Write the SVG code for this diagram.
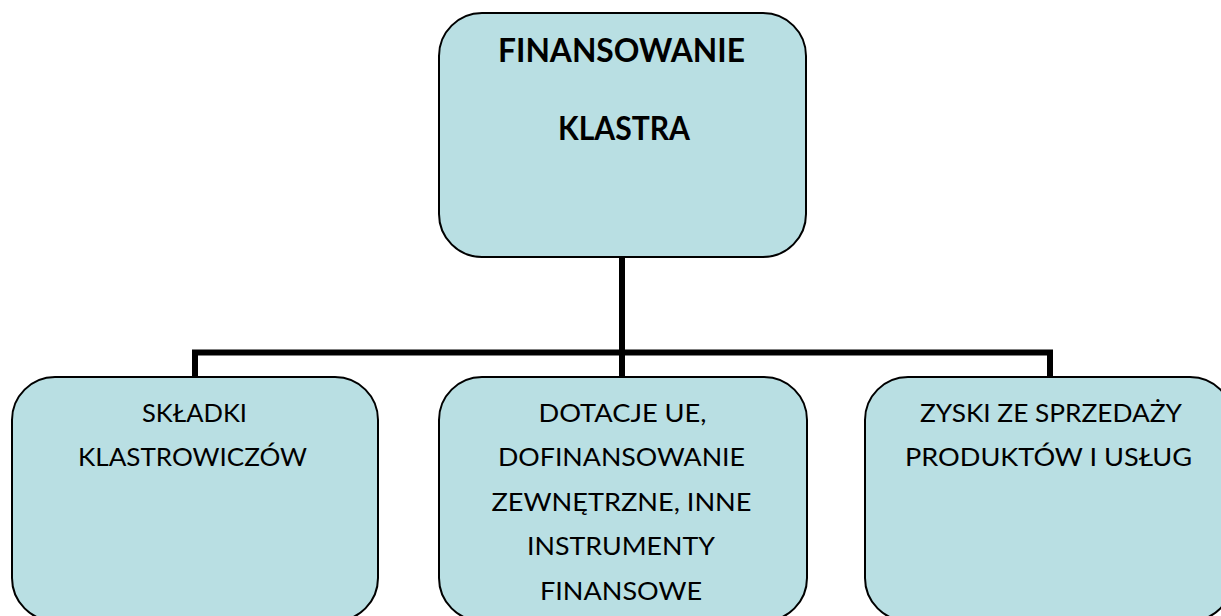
<svg xmlns="http://www.w3.org/2000/svg" width="1221" height="616" viewBox="0 0 1221 616">
<style>
.box{fill:#B9DFE3;stroke:#000;stroke-width:2}
.t{font-family:Lato,"Open Sans","Liberation Sans",sans-serif;fill:#000;text-anchor:middle}
.b{font-weight:bold;font-size:32px}
.r{font-size:25px}
.con{fill:none;stroke:#000;stroke-width:6}
</style>
<rect width="1221" height="616" fill="#fff"/>
<g id="connectors">
<path class="con" d="M622 256 V377"/>
<path class="con" d="M195 377 V352.5 H1050 V377"/>
</g>
<g id="root">
<rect class="box" x="439" y="13" width="367" height="244" rx="43"/>
<text class="t b" x="621.5" y="62" textLength="247" lengthAdjust="spacingAndGlyphs">FINANSOWANIE</text>
<text class="t b" x="624" y="140" textLength="132" lengthAdjust="spacingAndGlyphs">KLASTRA</text>
</g>
<g id="skladki">
<rect class="box" x="12" y="377" width="366" height="244" rx="43"/>
<text class="t r" x="194.5" y="422" textLength="105" lengthAdjust="spacingAndGlyphs">SKŁADKI</text>
<text class="t r" x="192.5" y="466" textLength="229" lengthAdjust="spacingAndGlyphs">KLASTROWICZÓW</text>
</g>
<g id="dotacje">
<rect class="box" x="439" y="377" width="368" height="244" rx="43"/>
<text class="t r" x="622.5" y="422" textLength="168" lengthAdjust="spacingAndGlyphs">DOTACJE UE,</text>
<text class="t r" x="621.5" y="466" textLength="247" lengthAdjust="spacingAndGlyphs">DOFINANSOWANIE</text>
<text class="t r" x="621.5" y="510.5" textLength="260" lengthAdjust="spacingAndGlyphs">ZEWNĘTRZNE, INNE</text>
<text class="t r" x="621" y="555" textLength="188" lengthAdjust="spacingAndGlyphs">INSTRUMENTY</text>
<text class="t r" x="621" y="599.5" textLength="162" lengthAdjust="spacingAndGlyphs">FINANSOWE</text>
</g>
<g id="zyski">
<rect class="box" x="865" y="377" width="368" height="244" rx="43"/>
<text class="t r" x="1051" y="422" textLength="262" lengthAdjust="spacingAndGlyphs">ZYSKI ZE SPRZEDAŻY</text>
<text class="t r" x="1048.5" y="466" textLength="287" lengthAdjust="spacingAndGlyphs">PRODUKTÓW I USŁUG</text>
</g>
</svg>
